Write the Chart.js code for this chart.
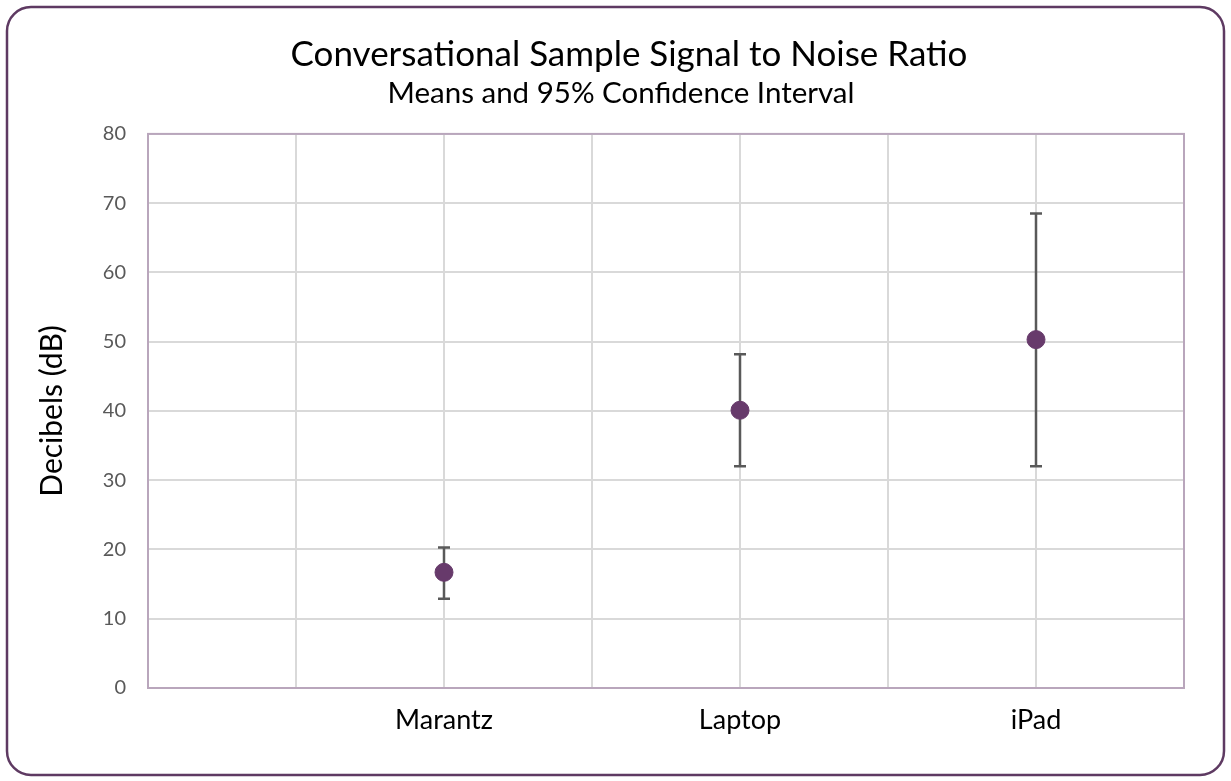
<!DOCTYPE html>
<html lang="en">
  <head>
    <meta charset="utf-8">
    <title>Conversational Sample Signal to Noise Ratio</title>
    <script src="https://cdn.jsdelivr.net/npm/chart.js"></script>
    <style>
      html, body { margin: 0; padding: 0; background: #fff; }
      #wrap { width: 1231px; height: 781px; }
    </style>
  </head>
  <body>
    <div id="wrap">
      <canvas id="myChart" width="1231" height="781"></canvas>
    </div>
    <script>
      // data
      const categories = ['Marantz', 'Laptop', 'iPad'];
      const xPositions = [2, 4, 6];
      const means = [16.7, 40.1, 50.3];
      const lower = [12.9, 32.0, 32.0];
      const upper = [20.3, 48.2, 68.5];
      const yTicks = [0, 10, 20, 30, 40, 50, 60, 70, 80];

      const FONT = 'Lato, "Open Sans", sans-serif';
      const purple = '#673a6b';
      const titleText = 'Conversational Sample Signal to Noise Ratio';
      const subtitleText = 'Means and 95% Confidence Interval';

      // rounded outer frame + plot border
      const frame = {
        id: 'frame',
        afterLayout(chart) {
          // center the titles on the whole frame, not just the padded box
          chart.boxes.forEach(b => {
            if (!b.options) return;
            if (b.options.text === titleText) { b.left += 37; b.right += 37; }
            if (b.options.text === subtitleText) { b.left += 29; b.right += 29; }
          });
        },
        beforeDraw(chart) {
          const c = chart.ctx;
          c.save();
          c.fillStyle = '#fff';
          c.fillRect(0, 0, chart.width, chart.height);
          c.strokeStyle = '#5e3a62';
          c.lineWidth = 2.5;
          c.beginPath();
          c.roundRect(7, 7, chart.width - 14, chart.height - 13, 24);
          c.stroke();
          c.restore();
        },
        afterDatasetsDraw(chart) {
          const a = chart.chartArea;
          const c = chart.ctx;
          c.save();
          c.strokeStyle = '#b9a6bc';
          c.lineWidth = 2;
          c.strokeRect(a.left, a.top, a.right - a.left, a.bottom - a.top);
          c.restore();
        }
      };

      // error bars drawn through the scales
      const errorBars = {
        id: 'errorBars',
        beforeDatasetsDraw(chart) {
          const xs = chart.scales.x, ys = chart.scales.y;
          const c = chart.ctx;
          c.save();
          c.strokeStyle = '#595959';
          c.lineWidth = 2.5;
          for (let i = 0; i < means.length; i++) {
            const x = xs.getPixelForValue(xPositions[i]);
            const y1 = ys.getPixelForValue(lower[i]);
            const y2 = ys.getPixelForValue(upper[i]);
            c.beginPath();
            c.moveTo(x, y1); c.lineTo(x, y2);
            c.moveTo(x - 6, y1); c.lineTo(x + 6, y1);
            c.moveTo(x - 6, y2); c.lineTo(x + 6, y2);
            c.stroke();
          }
          c.restore();
        }
      };

      const ctx = document.getElementById('myChart');
      new Chart(ctx, {
        type: 'scatter',
        data: {
          datasets: [{
            label: 'Mean',
            data: means.map((m, i) => ({ x: xPositions[i], y: m })),
            backgroundColor: purple,
            borderColor: purple,
            pointRadius: 9,
            pointHoverRadius: 9
          }]
        },
        options: {
          responsive: false,
          animation: false,
          layout: { padding: { left: 0, right: 47, top: 0, bottom: 0 } },
          plugins: {
            legend: { display: false },
            tooltip: { enabled: false },
            title: {
              display: true,
              text: titleText,
              color: '#000',
              font: { family: FONT, size: 35, weight: 'normal', lineHeight: 1.2 },
              padding: { top: 34, bottom: 0 }
            },
            subtitle: {
              display: true,
              text: subtitleText,
              color: '#000',
              font: { family: FONT, size: 29.5, weight: 'normal', lineHeight: 1.2 },
              padding: { top: 0, bottom: 22.5 }
            }
          },
          scales: {
            x: {
              type: 'linear',
              min: 0,
              max: 7,
              afterFit(scale) { scale.height = 93; },
              afterBuildTicks(scale) {
                scale.ticks = [0, 1, 2, 3, 4, 5, 6, 7].map(v => ({ value: v }));
              },
              grid: { color: '#d9d9d9', lineWidth: 2, drawTicks: false },
              border: { display: false },
              ticks: {
                color: '#000',
                padding: 16,
                autoSkip: false,
                maxRotation: 0,
                font: { family: FONT, size: 27 },
                callback(v) {
                  const i = xPositions.indexOf(v);
                  return i >= 0 ? categories[i] : '';
                }
              }
            },
            y: {
              min: 0,
              max: 80,
              afterFit(scale) { scale.width = 148; },
              afterBuildTicks(scale) {
                scale.ticks = yTicks.map(v => ({ value: v }));
              },
              grid: { color: '#d9d9d9', lineWidth: 2, drawTicks: false },
              border: { display: false },
              ticks: {
                color: '#595959',
                padding: 22,
                font: { family: FONT, size: 20 }
              },
              title: {
                display: true,
                text: 'Decibels (dB)',
                color: '#000',
                font: { family: FONT, size: 30, lineHeight: 1.2 },
                padding: { top: 34, bottom: 0 }
              }
            }
          }
        },
        plugins: [frame, errorBars]
      });
    </script>
  </body>
</html>
